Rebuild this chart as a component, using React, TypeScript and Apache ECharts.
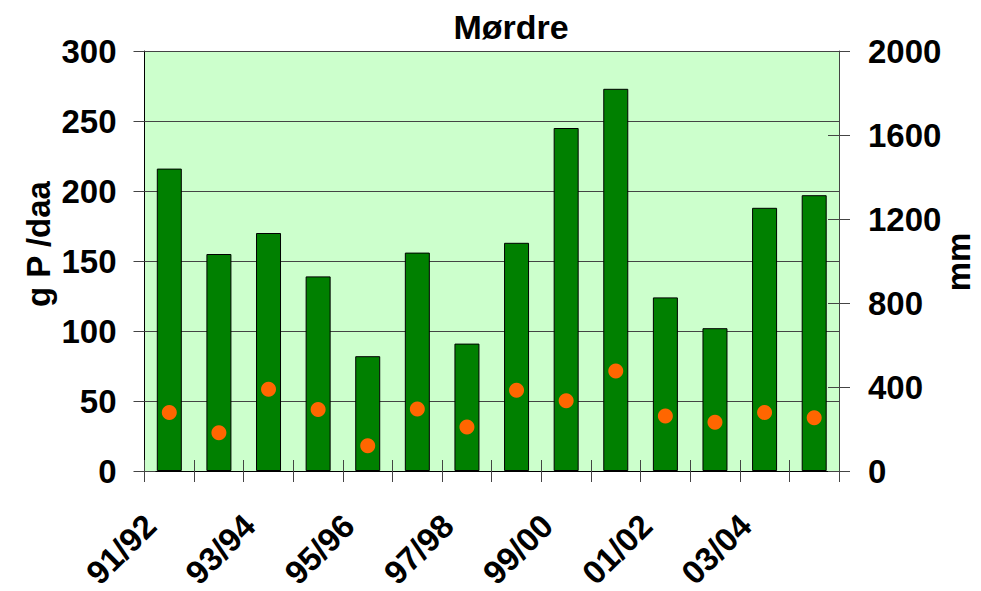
import React, { useEffect, useRef } from "react";
import * as echarts from "echarts";

const categories = ["91/92", "92/93", "93/94", "94/95", "95/96", "96/97", "97/98", "98/99", "99/00", "00/01", "01/02", "02/03", "03/04", "04/05"];
const phosphorus = [216, 155, 170, 139, 82, 156, 91, 163, 245, 273, 124, 102, 188, 197];
const runoffMm = [279, 182, 389, 293, 120, 295, 210, 384, 335, 476, 262, 232, 279, 254];
const leftTicks = { min: 0, max: 300, interval: 50 };
const rightTicks = { min: 0, max: 2000, interval: 400 };

const FONT = "'Liberation Sans', Arial, sans-serif";

export default function App() {
  const ref = useRef<HTMLDivElement>(null);
  useEffect(() => {
    document.body.style.margin = "0";
    const chart = echarts.init(ref.current!, undefined, { renderer: "svg" });
    const tickStyle = { color: "#444", width: 1 };
    const plain = (v: number) => String(v);
    chart.setOption({
      animation: false,
      textStyle: { fontFamily: FONT },
      grid: {
        left: 144.5,
        right: 142,
        top: 51,
        bottom: 120,
        show: true,
        backgroundColor: "#CCFFCC",
        borderWidth: 0,
        containLabel: false,
        outerBoundsMode: "none",
      },
      graphic: [
        {
          type: "text",
          x: 511,
          y: 27,
          style: {
            text: "Mørdre",
            x: 0,
            y: 0,
            align: "center",
            verticalAlign: "middle",
            font: `bold 34px ${FONT}`,
            fill: "#000",
          },
        },
        {
          type: "text",
          x: 38,
          y: 244,
          rotation: Math.PI / 2,
          style: {
            text: "g P /daa",
            x: 0,
            y: 0,
            align: "center",
            verticalAlign: "middle",
            font: `bold 33px ${FONT}`,
            fill: "#000",
          },
        },
        {
          type: "text",
          x: 958,
          y: 262,
          rotation: Math.PI / 2,
          style: {
            text: "mm",
            x: 0,
            y: 0,
            align: "center",
            verticalAlign: "middle",
            font: `bold 33px ${FONT}`,
            fill: "#000",
          },
        },
      ],
      xAxis: [
        {
          type: "category",
          data: categories,
          boundaryGap: true,
          axisLine: { show: true, lineStyle: { color: "#000", width: 1 } },
          axisTick: { show: true, inside: false, length: 11, interval: 0, lineStyle: tickStyle },
          axisLabel: {
            interval: 1,
            rotate: 45,
            margin: 30,
            padding: [0, 27, 0, 0],
            fontSize: 33,
            fontWeight: "bold",
            color: "#000",
            fontFamily: FONT,
          },
          splitLine: { show: false },
        },
        {
          type: "category",
          data: categories,
          position: "bottom",
          boundaryGap: true,
          axisLine: { show: false },
          axisTick: { show: true, inside: true, length: 11, interval: 0, lineStyle: tickStyle },
          axisLabel: { show: false },
          splitLine: { show: false },
        },
      ],
      yAxis: [
        {
          type: "value",
          position: "left",
          ...leftTicks,
          axisLine: { show: true, lineStyle: { color: "#000", width: 1 } },
          axisTick: { show: true, inside: false, length: 11, lineStyle: tickStyle },
          axisLabel: { margin: 28, fontSize: 33, fontWeight: "bold", color: "#000", fontFamily: FONT, formatter: plain },
          splitLine: { show: true, lineStyle: { color: "#444", width: 1 } },
        },
        {
          type: "value",
          position: "right",
          ...rightTicks,
          axisLine: { show: true, lineStyle: { color: "#444", width: 1 } },
          axisTick: { show: true, inside: false, length: 11, lineStyle: tickStyle },
          axisLabel: { margin: 29, fontSize: 33, fontWeight: "bold", color: "#000", fontFamily: FONT, formatter: plain },
          splitLine: { show: false },
        },
        {
          type: "value",
          position: "left",
          ...leftTicks,
          axisLine: { show: false },
          axisTick: { show: true, inside: true, length: 11, lineStyle: tickStyle },
          axisLabel: { show: false },
          splitLine: { show: false },
        },
        {
          type: "value",
          position: "right",
          ...rightTicks,
          axisLine: { show: false },
          axisTick: { show: true, inside: true, length: 11, lineStyle: tickStyle },
          axisLabel: { show: false },
          splitLine: { show: false },
        },
      ],
      series: [
        {
          type: "bar",
          name: "g P /daa",
          xAxisIndex: 0,
          yAxisIndex: 0,
          data: phosphorus,
          barWidth: 25,
          itemStyle: { color: "#008000", borderColor: "#000", borderWidth: 1 },
        },
        {
          type: "scatter",
          name: "mm",
          xAxisIndex: 0,
          yAxisIndex: 1,
          data: runoffMm,
          symbol: "circle",
          symbolSize: 15,
          itemStyle: { color: "#FF6600", opacity: 1 },
          z: 5,
        },
      ],
    });
    return () => chart.dispose();
  }, []);
  return <div ref={ref} style={{ width: 981, height: 591 }} />;
}
